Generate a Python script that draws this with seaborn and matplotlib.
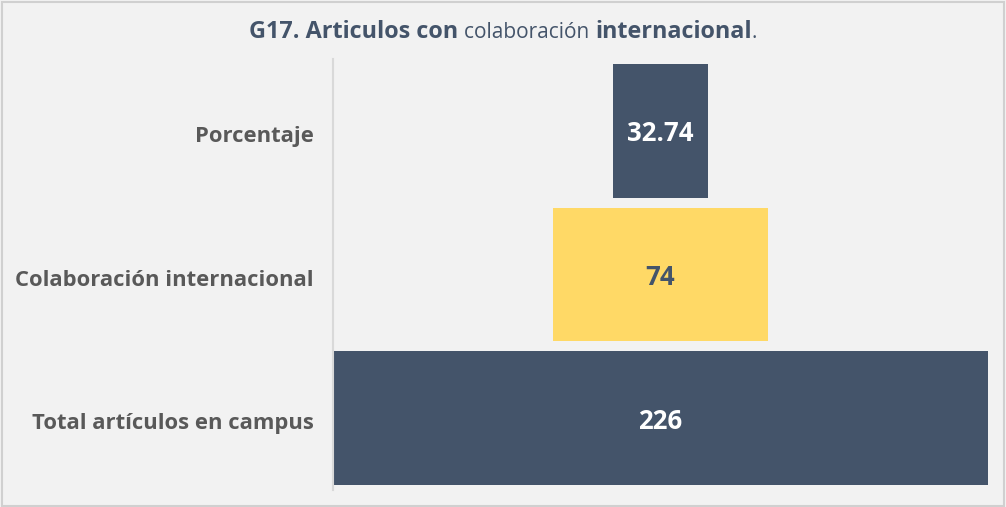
import matplotlib
matplotlib.use("Agg")
import matplotlib.pyplot as plt
import matplotlib.transforms as mtransforms
import seaborn as sns
import pandas as pd
from matplotlib.patches import Rectangle

categories = ["Porcentaje", "Colaboración internacional", "Total artículos en campus"]
values = [32.74, 74, 226]
value_labels = ["32.74", "74", "226"]
colors = ["#44546A", "#FFD966", "#44546A"]
text_colors = ["white", "#44546A", "white"]

sns.set_theme(style="white")
plt.rcParams['font.family'] = ['Open Sans', 'DejaVu Sans']

fig = plt.figure(figsize=(10.06, 5.07), dpi=100, facecolor="#f2f2f2")
fig.patches.append(Rectangle((0.002, 0.002), 0.996, 0.994, transform=fig.transFigure,
                             fill=False, edgecolor="#d0d0d0", linewidth=1.5))
ax = fig.add_axes([333/1006, 1-490/507, (988-333)/1006, (490-59)/507])
ax.set_facecolor("none")

df = pd.DataFrame({"cat": categories, "val": values})
sns.barplot(data=df, x="val", y="cat", hue="cat", palette=colors, orient="h",
            width=0.93, ax=ax, legend=False, saturation=1, linewidth=0)

vmax = max(values)
down = mtransforms.ScaledTranslation(0, -3/100, fig.dpi_scale_trans)
for p, v, lab, tc in zip(ax.patches, values, value_labels, text_colors):
    p.set_x((vmax - v) / 2)
    p.set_edgecolor("none")
    cy = p.get_y() + p.get_height() / 2
    ax.text(vmax / 2, cy, lab, ha="center", va="center", color=tc,
            fontsize=18.5, fontweight="bold", transform=ax.transData + down)

ax.set_xlim(0, vmax)
ax.set_ylim(2.5, -0.5)
ax.set_xlabel("")
ax.set_ylabel("")
ax.set_xticks([])
ax.tick_params(axis="y", length=0, pad=14, labelsize=15.8, labelcolor="#595959")
for lab in ax.get_yticklabels():
    lab.set_fontweight("bold")
    lab.set_transform(lab.get_transform() + down)
for s in ["top", "right", "bottom"]:
    ax.spines[s].set_visible(False)
ax.spines["left"].set_color("#d9d9d9")
ax.spines["left"].set_linewidth(1.5)

# Title with mixed weights
title_parts = [("G17. Articulos con ", "bold", 16.8), ("colaboración ", "normal", 15),
               ("internacional", "bold", 16.8), (".", "normal", 15)]
renderer = fig.canvas.get_renderer()
texts = []
for s, w, fs in title_parts:
    t = fig.text(0, 1-32/507, s, fontsize=fs, fontweight=w, color="#44546A",
                 ha="left", va="center")
    texts.append(t)
widths = [t.get_window_extent(renderer).width for t in texts]
total = sum(widths)
xpix = 503 - total / 2
for t, wd in zip(texts, widths):
    t.set_x(xpix / 1006)
    xpix += wd

fig.savefig("out.png", dpi=100, facecolor=fig.get_facecolor())
